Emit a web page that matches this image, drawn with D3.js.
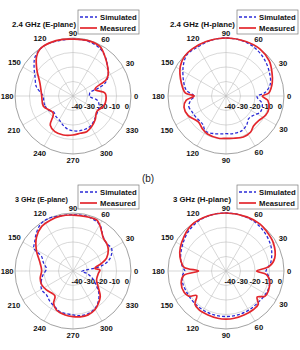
<!DOCTYPE html>
<html>
<head>
<meta charset="utf-8">
<script src="https://cdn.jsdelivr.net/npm/d3@7"></script>
<style>
    body { margin: 0; background: #fff; }
    svg { display: block; font-family: "Liberation Sans", Arial, sans-serif; }
    .lbl { font-size: 7.7px; font-weight: bold; fill: #111; }
</style>
</head>
<body>
<div id="chart"></div>
<script>

// Data ///////////////////////////////////////////////////////////////////////

const titles = ["2.4 GHz (E-plane)", "2.4 GHz (H-plane)", "3 GHz (E-plane)", "3 GHz (H-plane)"];
const seriesNames = ["Simulated", "Measured"];
const radialTicks = [-40, -30, -20, -10, 0];
const angleTicks = [0, 30, 60, 90, 120, 150, 180, 210, 240, 270, 300, 330];
const angleLabelsE = ["0", "30", "60", "90", "120", "150", "180", "210", "240", "270", "300", "330"];
const angleLabelsH = ["0", "30", "60", "90", "120", "150", "180", "150", "120", "90", "60", "30"];

// [angle (deg), level (dB)]
const simE24 = [[-170,-19.5],[-160,-19.5],[-150,-20.5],[-140,-22.7],[-130,-21.6],[-120,-21],[-110,-19],[-100,-17],[-90,-16],[-80,-15.6],[-70,-15.6],[-60,-16],[-50,-17.6],[-40,-19.2],[-30,-20],[-20,-20.8],[-10,-23],[-5,-27.2],[0,-28.8],[5,-28.6],[12,-28],[17,-22],[22,-16],[30,-12],[40,-8.8],[50,-5.2],[60,-2.4],[75,-0.8],[90,-0.8],[105,-0.6],[120,0],[134,-2.4],[143,-6.4],[153,-10.6],[166,-14],[180,-19.4]];
const measE24 = [[-161,-18.4],[-139,-21.9],[-128,-14.5],[-117,-12.4],[-104,-12.3],[-90,-13.1],[-79,-13.8],[-69,-13.6],[-59,-15.2],[-47,-17.6],[-33,-20.4],[-19,-17.8],[-7,-17.1],[5,-17.8],[17,-24.2],[26,-14.7],[31,-11.7],[40,-8.8],[51,-5],[61,-1.2],[73,-0.4],[90,-0.8],[100,-0.4],[113,0],[125,-0.4],[133,-3.1],[144,-9.2],[159,-15.6],[179,-18.4]];

const simH24 = [[-173,-15.4],[-164,-13.3],[-155,-14.2],[-145,-14.6],[-130,-14.8],[-120,-12],[-105,-13],[-90,-14],[-79,-13.6],[-66,-13.7],[-54,-15.6],[-45,-17.9],[-35,-16.8],[-25,-13.8],[-12,-14.5],[-1,-18.6],[5,-13],[15,-8.4],[30,-5.7],[45,-3.2],[60,-1.2],[75,-0.2],[90,0],[105,-0.2],[120,-1],[133,-0.8],[145,-4],[163,-9.6],[172,-12.5],[180,-18]];
const measH24 = [[-174,-12.4],[-165,-10],[-153,-10.6],[-137,-13.9],[-125,-12],[-116,-10.8],[-100,-10.4],[-90,-10.8],[-80,-10.4],[-67,-9.3],[-56,-9.8],[-47,-12],[-37,-11.8],[-26,-9.6],[-16,-9.2],[-6,-11],[0,-15],[4,-10.4],[16,-6.8],[27,-4.4],[39,-1.6],[54,0],[70,0],[90,0],[110,0],[126,0],[136,-0.4],[147,-2.4],[164,-8],[176,-12],[180,-18]];

const simE3 = [[-172,-19],[-162,-17],[-149,-14.8],[-138,-15.4],[-127,-13.6],[-117,-12.4],[-108,-10.6],[-90,-9.7],[-80,-8.8],[-70,-8.8],[-60,-10],[-50,-12.8],[-40,-16.8],[-30,-22],[-20,-26],[-10,-30],[-3,-34],[3,-32],[8,-24],[12,-18],[17,-14],[22,-11.6],[30,-9.2],[40,-10],[50,-8],[60,-3.2],[75,-1.2],[90,-1.2],[105,-0.8],[115,0],[125,-0.8],[135,-4],[144,-7.2],[150,-8.8],[155,-16],[165,-19],[175,-21.6]];
const measE3 = [[-167,-16.8],[-156,-16.4],[-144,-17.6],[-126,-18.8],[-121,-14],[-113,-10.8],[-100,-9.2],[-90,-8.5],[-81,-8],[-71,-8],[-61,-9.2],[-52,-11.6],[-43,-14.3],[-34,-18.8],[-21,-22.6],[-5,-22.4],[2,-21.4],[7,-24.8],[15,-19.6],[21,-15.2],[31,-11.6],[39,-10],[47,-9.2],[54,-6.4],[60,-3.2],[65,-1.2],[76,-1.4],[90,-1.4],[103,-1.2],[114,-1.6],[125,-2.4],[137,-5.6],[150,-10.8],[167,-16.8],[179,-18.4]];

const simH3 = [[-175,-10],[-165,-9],[-150,-9.2],[-135,-9],[-120,-8.8],[-105,-8.6],[-90,-8.6],[-75,-8.6],[-60,-8.8],[-45,-9],[-30,-8.4],[-20,-8.4],[-10,-9.6],[-5,-11],[0,-12.4],[5,-11],[10,-8.8],[20,-6.4],[30,-4.4],[45,-2.4],[60,-0.8],[75,-0.2],[90,0],[105,0],[120,-0.8],[135,-2.6],[150,-5.2],[165,-7.6],[175,-10],[180,-11.6]];
const measH3 = [[-174,-10.7],[-165,-8],[-153,-7.6],[-146,-9],[-140,-13.6],[-133,-8.6],[-125,-7.4],[-113,-7.2],[-100,-6.9],[-90,-6.8],[-80,-6.9],[-67,-7.2],[-55,-7.4],[-46,-8],[-40,-12],[-33,-8],[-25,-7.7],[-12,-9.3],[-5,-12],[0,-18.8],[6,-10],[15,-5.2],[31,-2],[45,-0.8],[54,0],[69,0],[90,0],[107,0],[127,-0.4],[147,-3.6],[158,-5.6],[167,-8],[175,-11],[180,-21]];

const params = {
    width: 300,
    height: 350,
    R: 58,
    simColor: "#2b2bd6",
    measColor: "#e3262c"
};

const panels = [
    { cx: 73,  cy: 96,  titleX: 12,  titleW: 64, legendX: 78,  labels: angleLabelsE, sim: simE24, meas: measE24 },
    { cx: 226, cy: 96,  titleX: 170, titleW: 65, legendX: 237, labels: angleLabelsH, sim: simH24, meas: measH24 },
    { cx: 73,  cy: 271, titleX: 15,  titleW: 53, legendX: 78,  labels: angleLabelsE, sim: simE3,  meas: measE3 },
    { cx: 226, cy: 271, titleX: 173, titleW: 58, legendX: 237, labels: angleLabelsH, sim: simH3,  meas: measH3 }
];
panels.forEach((p, i) => p.title = titles[i]);


// Chart //////////////////////////////////////////////////////////////////////

const svg = d3.select("#chart")
    .append("svg")
        .attr("width", params.width)
        .attr("height", params.height)
        .attr("viewBox", [0, 0, params.width, params.height]);

svg.append("rect")
    .attr("width", params.width)
    .attr("height", params.height)
    .attr("fill", "#fff");

panels.forEach(p => svg.call(addPanel, p));

svg.append("text")
    .attr("x", 148)
    .attr("y", 178)
    .attr("text-anchor", "middle")
    .attr("dominant-baseline", "central")
    .attr("font-size", "10px")
    .attr("fill", "#222")
    .text("(b)");


// Functions //////////////////////////////////////////////////////////////////

function addPanel(container, p) {

    const R = params.R;
    const r = d3.scaleLinear().domain([-40, 0]).range([0, R]);
    const rad = d => d * Math.PI / 180;

    const g = container.append("g")
        .attr("transform", `translate(${p.cx},${p.cy})`);

    // Grid
    g.append("g")
        .selectAll("line")
        .data(angleTicks)
        .join("line")
        .attr("x2", d => R * Math.cos(rad(d)))
        .attr("y2", d => -R * Math.sin(rad(d)))
        .attr("stroke", "#bdbdbd")
        .attr("stroke-width", 0.6);

    g.append("g")
        .selectAll("circle")
        .data(radialTicks.slice(1))
        .join("circle")
        .attr("r", d => r(d))
        .attr("fill", "none")
        .attr("stroke", d => d === 0 ? "#8a8a8a" : "#bdbdbd")
        .attr("stroke-width", d => d === 0 ? 0.8 : 0.6);

    // Angle labels
    const labelPos = (d, i) => {
        const s = Math.sin(rad(d));
        const halfW = p.labels[i].length * 2.2;
        const dist = R + 3 + halfW * Math.abs(Math.cos(rad(d))) + (s < 0 ? 3 : 2) * Math.abs(s);
        return [Math.max(dist * Math.cos(rad(d)), -p.cx + halfW + 0.5), -dist * s];
    };

    g.append("g")
        .selectAll("text")
        .data(angleTicks)
        .join("text")
        .attr("class", "lbl")
        .attr("text-anchor", "middle")
        .attr("dominant-baseline", "central")
        .attr("x", (d, i) => labelPos(d, i)[0])
        .attr("y", (d, i) => labelPos(d, i)[1])
        .text((d, i) => p.labels[i]);

    // Radial labels
    g.append("g")
        .selectAll("text")
        .data(radialTicks)
        .join("text")
        .attr("class", "lbl")
        .attr("text-anchor", "middle")
        .attr("dominant-baseline", "central")
        .attr("x", (d, i) => 4 + i * 12.5)
        .attr("y", 10)
        .text(d => d);

    // Curves
    const line = d3.lineRadial()
        .angle(d => rad(90 - d[0]))
        .radius(d => r(d[1]))
        .curve(d3.curveCatmullRomClosed.alpha(0.5));

    g.append("path")
        .datum(p.sim)
        .attr("d", line)
        .attr("fill", "none")
        .attr("stroke", params.simColor)
        .attr("stroke-width", 1.3)
        .attr("stroke-dasharray", "3,2");

    g.append("path")
        .datum(p.meas)
        .attr("d", line)
        .attr("fill", "none")
        .attr("stroke", params.measColor)
        .attr("stroke-width", 1.7);

    // Title
    container.append("text")
        .attr("class", "lbl")
        .attr("x", p.titleX)
        .attr("y", p.cy - 72)
        .attr("dominant-baseline", "central")
        .attr("textLength", p.titleW)
        .attr("lengthAdjust", "spacingAndGlyphs")
        .text(p.title);

    // Legend
    const legend = container.append("g")
        .attr("transform", `translate(${p.legendX},${p.cy - 86})`);

    legend.append("rect")
        .attr("width", 61)
        .attr("height", 24)
        .attr("fill", "#fff")
        .attr("stroke", "#7a7a7a")
        .attr("stroke-width", 0.7);

    const rows = legend.selectAll("g")
        .data(seriesNames)
        .join("g")
        .attr("transform", (d, i) => `translate(0,${7 + i * 11})`);

    rows.append("line")
        .attr("x1", 2)
        .attr("x2", 19)
        .attr("stroke", (d, i) => i === 0 ? params.simColor : params.measColor)
        .attr("stroke-width", (d, i) => i === 0 ? 1.3 : 1.7)
        .attr("stroke-dasharray", (d, i) => i === 0 ? "3,2" : null);

    rows.append("text")
        .attr("class", "lbl")
        .attr("x", 22)
        .attr("dominant-baseline", "central")
        .text(d => d);
}
</script>
</body>
</html>
